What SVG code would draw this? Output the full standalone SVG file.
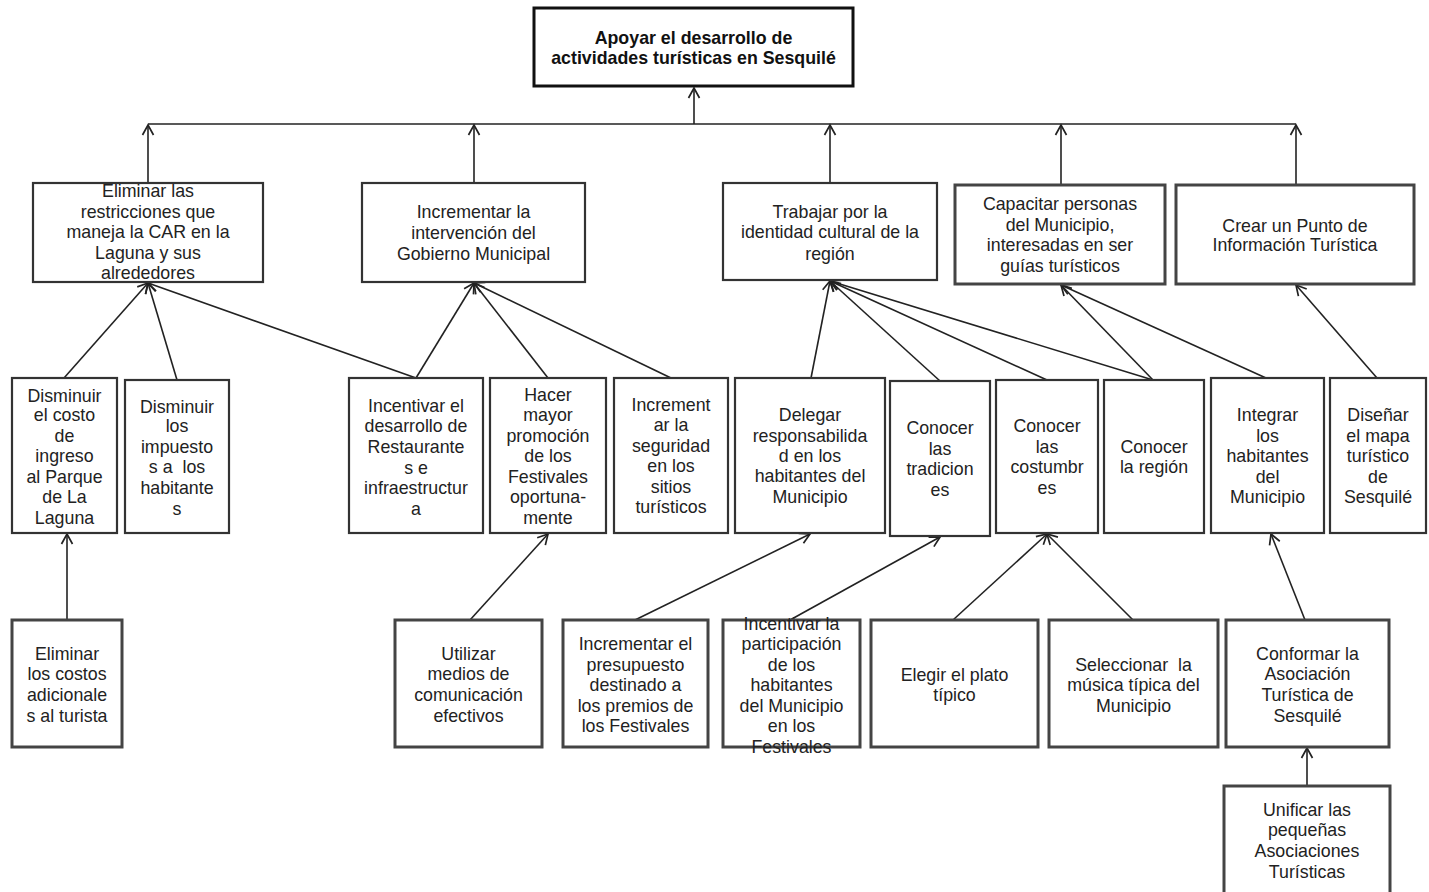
<svg xmlns="http://www.w3.org/2000/svg" width="1429" height="892" viewBox="0 0 1429 892">
<defs>
<style>
.b{fill:#fff;stroke:#333;stroke-width:2.2}
.b3{fill:#fff;stroke:#444;stroke-width:3}
.t{font-family:"Liberation Sans",Arial,sans-serif;font-size:17.8px;fill:#222;text-anchor:middle;dominant-baseline:central}
.tt{font-family:"Liberation Sans",Arial,sans-serif;font-size:17.8px;font-weight:bold;fill:#111;text-anchor:middle;dominant-baseline:central}
.pre{white-space:pre}
.c{fill:none;stroke:#222;stroke-width:1.6}
</style>
<marker id="ah" markerWidth="16" markerHeight="16" refX="12" refY="8" orient="auto" markerUnits="userSpaceOnUse">
<path d="M2,2.5 L12,8 L2,13.5" fill="none" stroke="#222" stroke-width="1.7"/>
</marker>
</defs>
<rect width="1429" height="892" fill="#fff"/>

<g id="connectors">
<line class="c" x1="148" y1="124" x2="1296" y2="124"/>
<line class="c" x1="694" y1="124" x2="694" y2="88" marker-end="url(#ah)"/>
<line class="c" x1="148" y1="183" x2="148" y2="125" marker-end="url(#ah)"/>
<line class="c" x1="474" y1="183" x2="474" y2="125" marker-end="url(#ah)"/>
<line class="c" x1="830" y1="183" x2="830" y2="125" marker-end="url(#ah)"/>
<line class="c" x1="1061" y1="185" x2="1061" y2="125" marker-end="url(#ah)"/>
<line class="c" x1="1296" y1="185" x2="1296" y2="125" marker-end="url(#ah)"/>

<line class="c" x1="64" y1="378" x2="148" y2="283" marker-end="url(#ah)"/>
<line class="c" x1="177" y1="380" x2="148" y2="283" marker-end="url(#ah)"/>
<line class="c" x1="416" y1="378" x2="148" y2="283" marker-end="url(#ah)"/>
<line class="c" x1="416" y1="378" x2="474" y2="283" marker-end="url(#ah)"/>
<line class="c" x1="548" y1="378" x2="474" y2="283" marker-end="url(#ah)"/>
<line class="c" x1="671" y1="378" x2="474" y2="283" marker-end="url(#ah)"/>

<line class="c" x1="811" y1="378" x2="830" y2="281" marker-end="url(#ah)"/>
<line class="c" x1="940" y1="381" x2="830" y2="281" marker-end="url(#ah)"/>
<line class="c" x1="1047" y1="380" x2="830" y2="281" marker-end="url(#ah)"/>
<line class="c" x1="1153" y1="380" x2="830" y2="281" marker-end="url(#ah)"/>
<line class="c" x1="1153" y1="380" x2="1061" y2="285" marker-end="url(#ah)"/>
<line class="c" x1="1266" y1="378" x2="1061" y2="285" marker-end="url(#ah)"/>
<line class="c" x1="1377" y1="378" x2="1296" y2="285" marker-end="url(#ah)"/>

<line class="c" x1="67" y1="620" x2="67" y2="534" marker-end="url(#ah)"/>
<line class="c" x1="470" y1="620" x2="548" y2="534" marker-end="url(#ah)"/>
<line class="c" x1="635" y1="620" x2="810" y2="534" marker-end="url(#ah)"/>
<line class="c" x1="790" y1="620" x2="940" y2="537" marker-end="url(#ah)"/>
<line class="c" x1="953" y1="620" x2="1047" y2="534" marker-end="url(#ah)"/>
<line class="c" x1="1133" y1="620" x2="1047" y2="534" marker-end="url(#ah)"/>
<line class="c" x1="1305" y1="620" x2="1271" y2="534" marker-end="url(#ah)"/>
<line class="c" x1="1307" y1="786" x2="1307" y2="748" marker-end="url(#ah)"/>
</g>

<g id="n0">
<rect x="534" y="8" width="319" height="78" fill="#fff" stroke="#111" stroke-width="3"/>
<text class="tt"><tspan x="693.5" y="38">Apoyar el desarrollo de</tspan><tspan x="693.5" y="58">actividades turísticas en Sesquilé</tspan></text>
</g>

<g id="nA">
<rect class="b" x="33" y="183" width="230" height="99"/>
<text class="t"><tspan x="148" y="191">Eliminar las</tspan><tspan x="148" y="212">restricciones que</tspan><tspan x="148" y="232">maneja la CAR en la</tspan><tspan x="148" y="253">Laguna y sus</tspan><tspan x="148" y="273">alrededores</tspan></text>
</g>
<g id="nB">
<rect class="b" x="362" y="183" width="223" height="99"/>
<text class="t"><tspan x="473.5" y="212">Incrementar la</tspan><tspan x="473.5" y="233">intervención del</tspan><tspan x="473.5" y="254">Gobierno Municipal</tspan></text>
</g>
<g id="nC">
<rect class="b" x="723" y="183" width="214" height="97"/>
<text class="t"><tspan x="830" y="212">Trabajar por la</tspan><tspan x="830" y="232">identidad cultural de la</tspan><tspan x="830" y="254">región</tspan></text>
</g>
<g id="nD">
<rect class="b3" x="955" y="185" width="210" height="99"/>
<text class="t"><tspan x="1060" y="204">Capacitar personas</tspan><tspan x="1060" y="225">del Municipio,</tspan><tspan x="1060" y="245">interesadas en ser</tspan><tspan x="1060" y="266">guías turísticos</tspan></text>
</g>
<g id="nE">
<rect class="b3" x="1176" y="185" width="238" height="99"/>
<text class="t"><tspan x="1295" y="226">Crear un Punto de</tspan><tspan x="1295" y="245">Información Turística</tspan></text>
</g>

<g id="nF">
<rect class="b" x="12" y="378" width="105" height="155"/>
<text class="t"><tspan x="64.5" y="396">Disminuir</tspan><tspan x="64.5" y="415">el costo</tspan><tspan x="64.5" y="436">de</tspan><tspan x="64.5" y="456">ingreso</tspan><tspan x="64.5" y="477">al Parque</tspan><tspan x="64.5" y="497">de La</tspan><tspan x="64.5" y="518">Laguna</tspan></text>
</g>
<g id="nG">
<rect class="b" x="125" y="380" width="104" height="153"/>
<text class="t"><tspan x="177" y="407">Disminuir</tspan><tspan x="177" y="426">los</tspan><tspan x="177" y="447">impuesto</tspan><tspan class="pre" x="177" y="467">s a  los</tspan><tspan x="177" y="488">habitante</tspan><tspan x="177" y="509">s</tspan></text>
</g>
<g id="nH">
<rect class="b" x="349" y="378" width="134" height="155"/>
<text class="t"><tspan x="416" y="406">Incentivar el</tspan><tspan x="416" y="426">desarrollo de</tspan><tspan x="416" y="447">Restaurante</tspan><tspan x="416" y="468">s e</tspan><tspan x="416" y="488">infraestructur</tspan><tspan x="416" y="509">a</tspan></text>
</g>
<g id="nI">
<rect class="b" x="490" y="378" width="116" height="155"/>
<text class="t"><tspan x="548" y="395">Hacer</tspan><tspan x="548" y="415">mayor</tspan><tspan x="548" y="436">promoción</tspan><tspan x="548" y="456">de los</tspan><tspan x="548" y="477">Festivales</tspan><tspan x="548" y="497">oportuna-</tspan><tspan x="548" y="518">mente</tspan></text>
</g>
<g id="nJ">
<rect class="b" x="614" y="378" width="114" height="155"/>
<text class="t"><tspan x="671" y="405">Increment</tspan><tspan x="671" y="425">ar la</tspan><tspan x="671" y="446">seguridad</tspan><tspan x="671" y="466">en los</tspan><tspan x="671" y="487">sitios</tspan><tspan x="671" y="507">turísticos</tspan></text>
</g>
<g id="nK">
<rect class="b" x="735" y="378" width="150" height="155"/>
<text class="t"><tspan x="810" y="415">Delegar</tspan><tspan x="810" y="436">responsabilida</tspan><tspan x="810" y="456">d en los</tspan><tspan x="810" y="476">habitantes del</tspan><tspan x="810" y="497">Municipio</tspan></text>
</g>
<g id="nL">
<rect class="b" x="890" y="381" width="100" height="155"/>
<text class="t"><tspan x="940" y="428">Conocer</tspan><tspan x="940" y="449">las</tspan><tspan x="940" y="469">tradicion</tspan><tspan x="940" y="490">es</tspan></text>
</g>
<g id="nM">
<rect class="b" x="996" y="380" width="102" height="153"/>
<text class="t"><tspan x="1047" y="426">Conocer</tspan><tspan x="1047" y="447">las</tspan><tspan x="1047" y="467">costumbr</tspan><tspan x="1047" y="488">es</tspan></text>
</g>
<g id="nN">
<rect class="b" x="1104" y="380" width="100" height="153"/>
<text class="t"><tspan x="1154" y="447">Conocer</tspan><tspan x="1154" y="467">la región</tspan></text>
</g>
<g id="nO">
<rect class="b" x="1211" y="378" width="113" height="155"/>
<text class="t"><tspan x="1267.5" y="415">Integrar</tspan><tspan x="1267.5" y="436">los</tspan><tspan x="1267.5" y="456">habitantes</tspan><tspan x="1267.5" y="477">del</tspan><tspan x="1267.5" y="497">Municipio</tspan></text>
</g>
<g id="nP">
<rect class="b" x="1330" y="378" width="96" height="155"/>
<text class="t"><tspan x="1378" y="415">Diseñar</tspan><tspan x="1378" y="436">el mapa</tspan><tspan x="1378" y="456">turístico</tspan><tspan x="1378" y="477">de</tspan><tspan x="1378" y="497">Sesquilé</tspan></text>
</g>

<g id="nQ">
<rect class="b3" x="12" y="620" width="110" height="127"/>
<text class="t"><tspan x="67" y="654">Eliminar</tspan><tspan x="67" y="674">los costos</tspan><tspan x="67" y="695">adicionale</tspan><tspan x="67" y="716">s al turista</tspan></text>
</g>
<g id="nR">
<rect class="b3" x="395" y="620" width="147" height="127"/>
<text class="t"><tspan x="468.5" y="654">Utilizar</tspan><tspan x="468.5" y="674">medios de</tspan><tspan x="468.5" y="695">comunicación</tspan><tspan x="468.5" y="716">efectivos</tspan></text>
</g>
<g id="nS">
<rect class="b3" x="563" y="620" width="145" height="127"/>
<text class="t"><tspan x="635.5" y="644">Incrementar el</tspan><tspan x="635.5" y="665">presupuesto</tspan><tspan x="635.5" y="685">destinado a</tspan><tspan x="635.5" y="706">los premios de</tspan><tspan x="635.5" y="726">los Festivales</tspan></text>
</g>
<g id="nT">
<rect class="b3" x="723" y="620" width="137" height="127"/>
<text class="t"><tspan x="791.5" y="624">Incentivar la</tspan><tspan x="791.5" y="644">participación</tspan><tspan x="791.5" y="665">de los</tspan><tspan x="791.5" y="685">habitantes</tspan><tspan x="791.5" y="706">del Municipio</tspan><tspan x="791.5" y="726">en los</tspan><tspan x="791.5" y="747">Festivales</tspan></text>
</g>
<g id="nU">
<rect class="b3" x="871" y="620" width="167" height="127"/>
<text class="t"><tspan x="954.5" y="675">Elegir el plato</tspan><tspan x="954.5" y="695">típico</tspan></text>
</g>
<g id="nV">
<rect class="b3" x="1049" y="620" width="169" height="127"/>
<text class="t"><tspan class="pre" x="1133.5" y="665">Seleccionar  la</tspan><tspan x="1133.5" y="685">música típica del</tspan><tspan x="1133.5" y="706">Municipio</tspan></text>
</g>
<g id="nW">
<rect class="b3" x="1226" y="620" width="163" height="127"/>
<text class="t"><tspan x="1307.5" y="654">Conformar la</tspan><tspan x="1307.5" y="674">Asociación</tspan><tspan x="1307.5" y="695">Turística de</tspan><tspan x="1307.5" y="716">Sesquilé</tspan></text>
</g>
<g id="nX">
<rect class="b3" x="1224" y="786" width="166" height="120"/>
<text class="t"><tspan x="1307" y="810">Unificar las</tspan><tspan x="1307" y="830">pequeñas</tspan><tspan x="1307" y="851">Asociaciones</tspan><tspan x="1307" y="872">Turísticas</tspan></text>
</g>
</svg>
